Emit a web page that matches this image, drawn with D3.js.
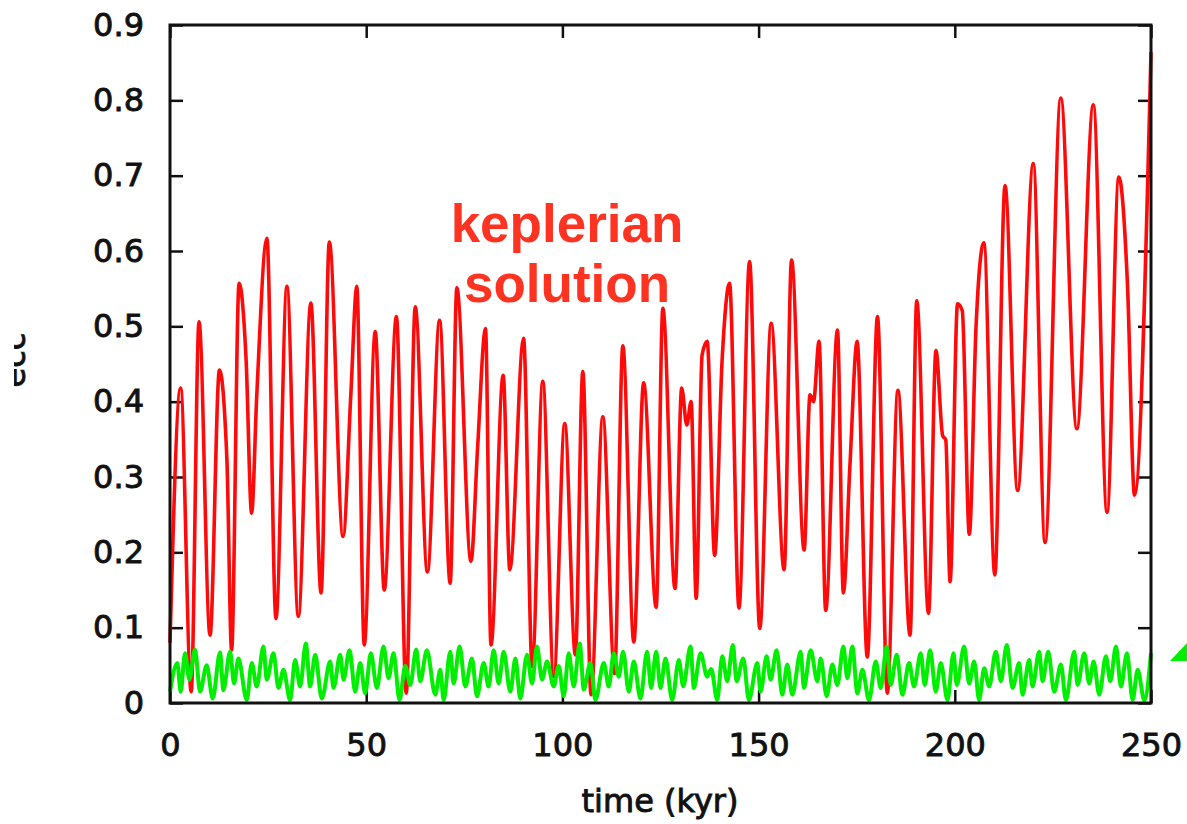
<!DOCTYPE html>
<html>
<head>
<meta charset="utf-8">
<script src="https://cdn.jsdelivr.net/npm/d3@7"></script>
<style>
  body { margin: 0; background: #fff; }
  svg { display: block; }
</style>
</head>
<body>
<svg id="chart"></svg>
<script>
// keplerian solution (red): time in kyr, eccentricity
const redTime = [0, 2.7, 5.4, 7.4, 10.2, 12.6, 14.5, 15.7, 17.6, 19.4, 20.8, 22.1, 24.7, 27.0, 29.8, 32.7, 35.9, 38.5, 40.6, 44.1,
    46.1, 47.6, 49.5, 52.3, 54.6, 57.7, 60.2, 62.5, 65.6, 68.7, 71.4, 73.1, 76.7, 78.4, 80.4, 81.8, 84.9, 86.6, 90.1, 92.3,
    95.0, 97.8, 100.6, 103.3, 105.2, 107.3, 110.3, 113.3, 115.4, 118.2, 120.7, 123.9, 125.6, 128.7, 130.4, 131.7, 132.8, 134.1, 135.6, 136.9,
    138.8, 140.7, 142.6, 145.0, 147.7, 150.3, 153.2, 156.5, 158.4, 161.6, 163.1, 164.0, 165.4, 167.1, 170.1, 171.6, 173.3, 175.1, 177.7, 180.3,
    182.8, 185.5, 188.6, 190.3, 193.3, 195.2, 196.9, 197.7, 198.8, 200.7, 201.9, 203.7, 205.4, 207.4, 210.2, 212.8, 216.0, 220.0, 223.0, 227.0,
    231.1, 235.3, 238.8, 241.8, 244.0, 245.8, 250.0];
const redEcc = [0.08, 0.418, 0.015, 0.506, 0.09, 0.442, 0.323, 0.07, 0.557, 0.455, 0.252, 0.407, 0.617, 0.112, 0.553, 0.115, 0.531, 0.146, 0.612, 0.221,
    0.411, 0.553, 0.077, 0.493, 0.15, 0.513, 0.013, 0.526, 0.174, 0.508, 0.159, 0.551, 0.188, 0.34, 0.497, 0.077, 0.435, 0.177, 0.484, 0.048,
    0.427, 0.035, 0.371, 0.064, 0.44, 0.011, 0.38, 0.039, 0.474, 0.081, 0.425, 0.127, 0.524, 0.152, 0.418, 0.369, 0.40, 0.139, 0.462, 0.48,
    0.196, 0.455, 0.557, 0.126, 0.586, 0.099, 0.504, 0.177, 0.588, 0.203, 0.409, 0.40, 0.48, 0.123, 0.495, 0.146, 0.318, 0.48, 0.061, 0.513,
    0.013, 0.415, 0.09, 0.534, 0.119, 0.468, 0.355, 0.349, 0.161, 0.53, 0.521, 0.224, 0.498, 0.611, 0.17, 0.687, 0.282, 0.716, 0.213, 0.803,
    0.364, 0.794, 0.253, 0.698, 0.556, 0.276, 0.864];

// green series
const greenTime = [0, 1.87, 2.72, 3.83, 4.93, 6.38, 7.65, 9.35, 10.88, 12.75, 13.6, 15.3, 16.33, 17.43, 19.56, 20.83, 22.11, 23.81, 24.66, 26.36,
    27.64, 28.91, 30.61, 31.89, 33.16, 34.61, 35.71, 36.99, 38.69, 40.82, 41.67, 43.37, 44.22, 45.75, 47.19, 48.47, 49.74, 51.19, 52.72, 54.42,
    55.70, 56.97, 58.50, 59.95, 61.22, 62.75, 63.77, 65.47, 67.60, 68.88, 69.73, 71.43, 72.28, 73.81, 75.25, 76.95, 78.23, 79.93, 81.20, 82.48,
    83.76, 85.03, 86.73, 88.01, 89.28, 90.98, 92.26, 93.53, 94.81, 96.08, 97.79, 99.06, 100.34, 101.61, 102.89, 104.42, 105.44, 107.14, 108.41, 110.54,
    111.82, 113.09, 114.37, 115.47, 116.92, 118.19, 119.89, 121.59, 122.61, 123.9, 125.0, 126.28, 127.98, 129.68, 130.78, 132.65, 133.50, 135.20, 136.91, 137.93,
    139.46, 140.73, 142.01, 143.45, 144.39, 146.09, 147.53, 149.66, 150.51, 152.04, 153.06, 154.59, 156.04, 157.31, 158.59, 160.71, 161.56, 163.26, 164.97, 165.82,
    167.35, 168.79, 170.07, 171.60, 172.62, 173.89, 175.17, 176.44, 178.15, 179.85, 181.12, 182.65, 183.67, 185.20, 186.65, 188.35, 189.62, 191.32, 192.34, 193.71,
    195.15, 196.43, 198.13, 199.66, 200.51, 202.38, 203.65, 204.93, 206.20, 207.48, 208.76, 210.46, 211.73, 213.26, 214.71, 216.41, 217.26, 218.96, 219.81, 221.51,
    222.36, 223.81, 225.34, 227.04, 228.31, 230.44, 231.29, 232.99, 234.26, 235.37, 236.81, 238.51, 239.62, 241.07, 242.34, 243.88, 245.32, 246.60, 248.30, 250];
const greenEcc = [0.015, 0.053, 0.015, 0.066, 0.031, 0.071, 0.015, 0.05, 0.006, 0.067, 0.017, 0.068, 0.026, 0.059, 0.004, 0.053, 0.022, 0.075, 0.031, 0.066,
    0.02, 0.044, 0.004, 0.057, 0.022, 0.079, 0.022, 0.064, 0.006, 0.055, 0.02, 0.064, 0.031, 0.07, 0.015, 0.053, 0.013, 0.066, 0.02, 0.075,
    0.033, 0.066, 0.004, 0.049, 0.024, 0.071, 0.029, 0.07, 0.011, 0.044, 0.004, 0.068, 0.026, 0.075, 0.022, 0.059, 0.009, 0.053, 0.022, 0.07,
    0.026, 0.068, 0.015, 0.059, 0.006, 0.064, 0.026, 0.075, 0.031, 0.055, 0.022, 0.049, 0.009, 0.066, 0.022, 0.079, 0.018, 0.053, 0.004, 0.053,
    0.022, 0.066, 0.035, 0.068, 0.015, 0.055, 0.006, 0.068, 0.02, 0.068, 0.02, 0.059, 0.004, 0.057, 0.022, 0.075, 0.02, 0.066, 0.035, 0.045,
    0.004, 0.062, 0.029, 0.077, 0.029, 0.059, 0.004, 0.053, 0.015, 0.062, 0.031, 0.07, 0.011, 0.051, 0.011, 0.068, 0.02, 0.07, 0.029, 0.059,
    0.009, 0.051, 0.024, 0.075, 0.033, 0.075, 0.013, 0.044, 0.004, 0.055, 0.02, 0.075, 0.024, 0.064, 0.011, 0.053, 0.022, 0.066, 0.024, 0.07,
    0.015, 0.053, 0.004, 0.066, 0.024, 0.075, 0.026, 0.055, 0.004, 0.046, 0.022, 0.068, 0.029, 0.077, 0.02, 0.053, 0.011, 0.057, 0.022, 0.068,
    0.029, 0.068, 0.015, 0.051, 0.004, 0.068, 0.024, 0.066, 0.026, 0.055, 0.011, 0.062, 0.029, 0.075, 0.022, 0.066, 0.004, 0.044, 0.004, 0.066];

const xTicks = [0, 50, 100, 150, 200, 250];
const yTicks = [0, 0.1, 0.2, 0.3, 0.4, 0.5, 0.6, 0.7, 0.8, 0.9];
const yTickLabels = ["0", "0.1", "0.2", "0.3", "0.4", "0.5", "0.6", "0.7", "0.8", "0.9"];
const xLabel = "time (kyr)";
const yLabel = "ecc";
const noteLines = ["keplerian", "solution"];

var svgWidth = 1187,
    svgHeight = 824;

var margin = { top: 25, right: 36, bottom: 121, left: 170 };
var width = svgWidth - margin.left - margin.right;
var height = svgHeight - margin.top - margin.bottom;

var svg = d3.select("#chart")
    .attr("width", svgWidth)
    .attr("height", svgHeight);

var g = svg.append("g")
    .attr("transform", "translate(" + margin.left + "," + margin.top + ")");

var x = d3.scaleLinear().domain([0, 250]).range([0, width]);
var y = d3.scaleLinear().domain([0, 0.9]).range([height, 0]);

var axisFont = "'DejaVu Sans', sans-serif";

// axes, ticks pointing inward like gnuplot
var xAxis = d3.axisBottom(x).tickValues(xTicks).tickSizeInner(-13).tickSizeOuter(0).tickPadding(30);
var yAxis = d3.axisLeft(y).tickValues(yTicks).tickSizeInner(-13).tickSizeOuter(0).tickPadding(26)
    .tickFormat((d, i) => yTickLabels[i]);
var xTop = d3.axisTop(x).tickValues(xTicks).tickSizeInner(-13).tickSizeOuter(0).tickFormat("");
var yRight = d3.axisRight(y).tickValues(yTicks).tickSizeInner(-13).tickSizeOuter(0).tickFormat("");

g.append("g").attr("class", "ax").attr("transform", "translate(0," + height + ")").call(xAxis);
g.append("g").attr("class", "ax").call(yAxis);
g.append("g").attr("class", "ax").call(xTop);
g.append("g").attr("class", "ax").attr("transform", "translate(" + width + ",0)").call(yRight);

g.selectAll(".ax .domain").remove();
g.selectAll(".ax .tick line")
    .attr("stroke", "#111")
    .attr("stroke-width", 2.5);
g.selectAll(".ax .tick text")
    .attr("font-family", axisFont)
    .attr("font-size", 32)
    .attr("fill", "#111")
    .attr("stroke", "#111")
    .attr("stroke-width", 0.9);

// lines
var line = d3.line()
    .x(d => x(d[0]))
    .y(d => y(d[1]))
    .curve(d3.curveMonotoneX);

var red = redTime.map((t, i) => [t, redEcc[i]]);
var green = greenTime.map((t, i) => [t, greenEcc[i]]);

g.append("path")
    .attr("d", line(red))
    .attr("fill", "none")
    .attr("stroke", "#ff0a0a")
    .attr("stroke-width", 3.6)
    .attr("stroke-linejoin", "round");

g.append("path")
    .attr("d", line(green))
    .attr("fill", "none")
    .attr("stroke", "#00ee00")
    .attr("stroke-width", 4)
    .attr("stroke-linejoin", "round");

// frame
g.append("rect")
    .attr("x", 0)
    .attr("y", 0)
    .attr("width", width)
    .attr("height", height)
    .attr("fill", "none")
    .attr("stroke", "#111")
    .attr("stroke-width", 3);

// axis titles
svg.append("text")
    .attr("x", 660)
    .attr("y", 812)
    .attr("text-anchor", "middle")
    .attr("font-family", axisFont)
    .attr("font-size", 32)
    .attr("fill", "#111")
    .attr("stroke", "#111")
    .attr("stroke-width", 0.9)
    .text(xLabel);

// y title is cut off by the left edge in the picture
svg.append("clipPath").attr("id", "ycut")
    .append("rect").attr("x", 14).attr("y", 0).attr("width", 60).attr("height", svgHeight);

svg.append("g")
    .attr("clip-path", "url(#ycut)")
    .append("text")
    .attr("transform", "translate(25,360) rotate(-90)")
    .attr("text-anchor", "middle")
    .attr("font-family", axisFont)
    .attr("font-size", 32)
    .attr("fill", "#111")
    .attr("stroke", "#111")
    .attr("stroke-width", 0.9)
    .text(yLabel);

// annotation
svg.append("g").selectAll("text")
    .data(noteLines)
    .enter()
    .append("text")
    .attr("x", 567)
    .attr("y", (d, i) => 242 + i * 60)
    .attr("text-anchor", "middle")
    .attr("font-family", "'Liberation Sans', Arial, sans-serif")
    .attr("font-weight", "bold")
    .attr("font-size", 53)
    .attr("fill", "#ff3322")
    .text(d => d);

// cut-off green marker at the right edge
svg.append("path")
    .attr("d", "M1170,661L1187,643L1187,661Z")
    .attr("fill", "#00ee00");
</script>
</body>
</html>
